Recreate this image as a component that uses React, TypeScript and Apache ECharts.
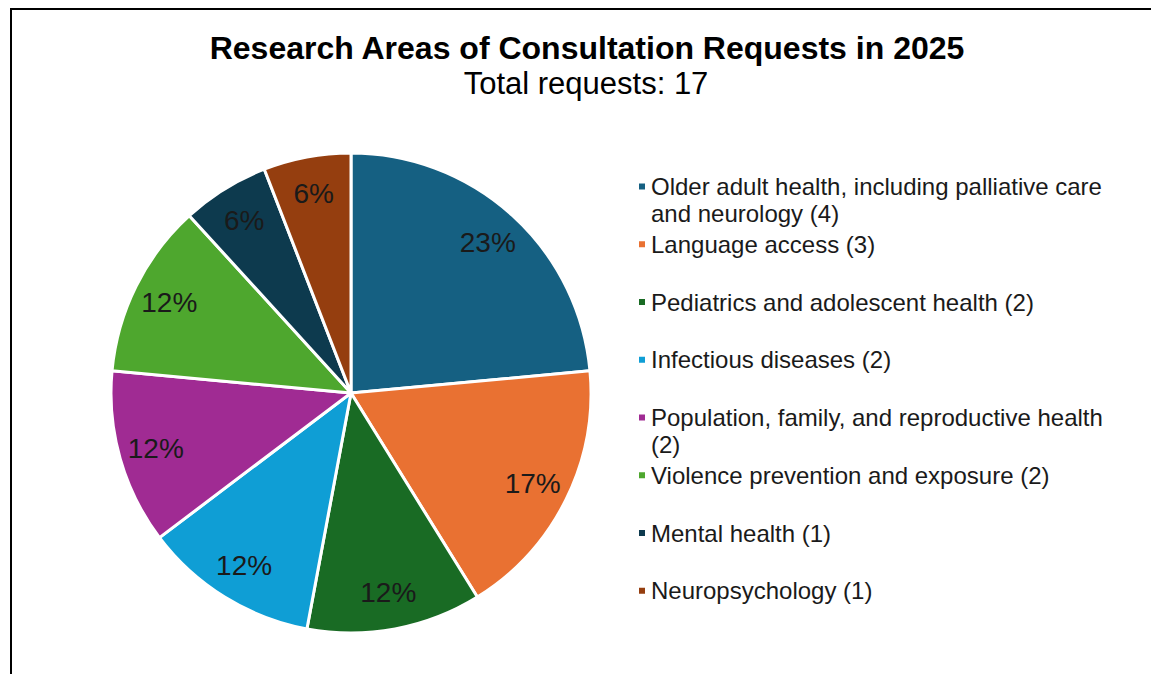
import React, { useEffect, useRef } from "react";
import * as echarts from "echarts";

const titleText = "Research Areas of Consultation Requests in 2025";
const categories = [
  "Older adult health, including palliative care and neurology",
  "Language access",
  "Pediatrics and adolescent health",
  "Infectious diseases",
  "Population, family, and reproductive health",
  "Violence prevention and exposure",
  "Mental health",
  "Neuropsychology",
];
const counts = [4, 3, 2, 2, 2, 2, 1, 1];
const percentLabels = ["23%", "17%", "12%", "12%", "12%", "12%", "6%", "6%"];
const colors = ["#156082", "#E97132", "#196B24", "#0F9ED5", "#A02B93", "#4EA72E", "#0D3A4E", "#953E0F"];

const FONT = "'Liberation Sans', Arial, sans-serif";
const TEXT_COLOR = "#1a1a1a";

function wrapLines(text: string, maxChars: number): string[] {
  const words = text.split(" ");
  const lines: string[] = [];
  let cur = "";
  for (const w of words) {
    const next = cur ? cur + " " + w : w;
    if (next.length > maxChars && cur) {
      lines.push(cur);
      cur = w;
    } else {
      cur = next;
    }
  }
  if (cur) lines.push(cur);
  return lines;
}

export default function App() {
  const ref = useRef<HTMLDivElement>(null);

  useEffect(() => {
    if (!ref.current) return;
    const chart = echarts.init(ref.current, undefined, { renderer: "svg" });
    const total = counts.reduce((a, b) => a + b, 0);
    const names = categories.map((c, i) => `${c} (${counts[i]})`);
    const data = names.map((name, i) => ({ name, value: counts[i], itemStyle: { color: colors[i] } }));
    const labelData = names.map((name, i) => ({ name, value: counts[i] }));

    const lineH = 27;
    const firstY = 186.5;
    const step = 57.75;

    const legends = names.map((name, i) => {
      const lines = wrapLines(name, 45);
      const n = lines.length;
      // pad with empty lines on top so the first line sits level with the marker
      const shown = [...Array(n - 1).fill(""), ...lines].join("\n");
      const y = firstY + i * step;
      return {
        data: [{ name, icon: "rect" }],
        orient: "vertical",
        left: 637,
        top: y - ((2 * n - 1) * lineH) / 2,
        itemWidth: 8,
        itemHeight: 8,
        padding: 0,
        selectedMode: false,
        formatter: () => shown,
        textStyle: {
          fontSize: 24,
          lineHeight: lineH,
          color: TEXT_COLOR,
          fontFamily: FONT,
        },
      };
    });

    chart.setOption({
      animation: false,
      backgroundColor: "#ffffff",
      graphic: [
        {
          type: "rect",
          shape: { x: 11, y: 9, width: 1200, height: 720 },
          style: { fill: "none", stroke: "#000000", lineWidth: 2 },
          silent: true,
        },
        {
          type: "text",
          x: 587,
          y: 48,
          style: {
            text: titleText,
            fontSize: 32,
            fontWeight: "bold",
            fontFamily: FONT,
            fill: "#000000",
            textAlign: "center",
            textVerticalAlign: "middle",
          },
        },
        {
          type: "text",
          x: 586,
          y: 83,
          style: {
            text: `Total requests: ${total}`,
            fontSize: 31,
            fontFamily: FONT,
            fill: "#000000",
            textAlign: "center",
            textVerticalAlign: "middle",
          },
        },
      ],
      legend: legends,
      series: [
        {
          type: "pie",
          center: [351, 393],
          radius: [0, 240],
          startAngle: 90,
          clockwise: true,
          data,
          label: { show: false },
          labelLine: { show: false },
          itemStyle: { borderColor: "#ffffff", borderWidth: 3 },
          emphasis: { disabled: true },
          silent: true,
        },
        {
          type: "pie",
          center: [351, 393],
          radius: [160, 240],
          startAngle: 90,
          clockwise: true,
          data: labelData,
          itemStyle: { color: "rgba(0,0,0,0)", borderWidth: 0 },
          label: {
            show: true,
            position: "inside",
            formatter: (p: any) => percentLabels[p.dataIndex],
            fontSize: 28,
            fontFamily: FONT,
            color: TEXT_COLOR,
          },
          labelLine: { show: false },
          emphasis: { disabled: true },
          silent: true,
        },
      ],
    });
    return () => chart.dispose();
  }, []);

  return (
    <div
      ref={ref}
      style={{ position: "fixed", left: 0, top: 0, width: 1151, height: 674, background: "#fff" }}
    />
  );
}
